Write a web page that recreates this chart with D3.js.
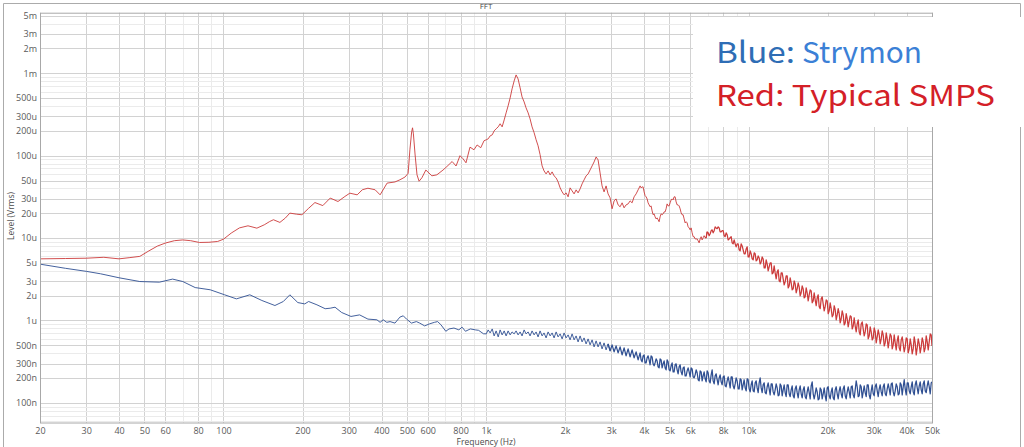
<!DOCTYPE html>
<html><head><meta charset="utf-8">
<script src="https://cdn.jsdelivr.net/npm/d3@7"></script>
<style>body{margin:0;background:#fff}svg{display:block}</style>
</head><body><svg id="c" width="1024" height="447"></svg>
<script>
// ---------- tick labels ----------
const xTicks = [20,30,40,50,60,80,100,200,300,400,500,600,800,1000,2000,3000,4000,5000,6000,8000,10000,20000,30000,40000,50000];
const xTickLabels = ["20","30","40","50","60","80","100","200","300","400","500","600","800","1k","2k","3k","4k","5k","6k","8k","10k","20k","30k","40k","50k"];
const yTicks = [5e-3,3e-3,2e-3,1e-3,5e-4,3e-4,2e-4,1e-4,5e-5,3e-5,2e-5,1e-5,5e-6,3e-6,2e-6,1e-6,5e-7,3e-7,2e-7,1e-7];
const yTickLabels = ["5m","3m","2m","1m","500u","300u","200u","100u","50u","30u","20u","10u","5u","3u","2u","1u","500n","300n","200n","100n"];

// ---------- data (levels in microvolts rms) ----------
// Red: typical SMPS, 20 Hz - 1 kHz
const redLowHz = [20,25,30,35,40,44,48,52,56,60,65,70,75,81,88,95,100,107,115,124,134,143,150,155,164,172,179,190,199,211,223,239,255,273,290,303,323,338,355,378,395,420,450,470,491,505,513,521,525,529,537,546,556,570,590,622,650,686,710,743,769,796,817,839,869,900,925,955,983];
const redLowUV = [5.6,5.65,5.7,5.85,5.6,5.8,6.0,7.0,8.0,8.7,9.3,9.5,9.3,8.85,8.9,9.1,9.7,11.5,13.3,14.1,13.2,14.5,15.9,16.7,15.5,17.5,20.1,19.5,19.2,23,27.0,24.8,30.6,27.8,32,35.1,33.5,38.6,40.3,38.6,33.5,46.5,48,51,55,61,118,195,218,184,102,58.6,49,54,67,57,58.6,67,74,85,75,100,92,82,127,118,135,125,152];
// Blue: Strymon, 20 Hz - 1 kHz
const blueLowHz = [20,25,30,34,40,48,57,64,70,78,89,101,112,126,140,157,169,179,192,204,211,227,244,255,266,282,306,330,355,384,395,406,419,431,450,470,484,498,520,543,559,584,609,636,654,673,703,723,755,788,811,835,872,910,937,978];
const blueLowUV = [4.83,4.3,3.95,3.69,3.3,2.97,2.92,3.18,2.97,2.51,2.36,2.05,1.83,2.05,1.75,1.52,1.70,2.05,1.65,1.59,1.70,1.55,1.39,1.41,1.45,1.25,1.12,1.17,1.04,1.02,0.95,1.02,0.95,0.97,0.93,1.10,1.14,1.04,0.93,0.97,0.93,0.86,0.91,0.95,0.97,0.89,0.74,0.79,0.81,0.77,0.83,0.74,0.79,0.77,0.76,0.69];

// FFT bins 1 kHz - 50 kHz (shared frequency list)
const gridHz = [
1002,1019,1037,1056,1074,1093,1113,1132,1152,1173,
1193,1214,1236,1257,1280,1302,1325,1349,1372,1397,
1421,1447,1472,1498,1525,1552,1579,1607,1636,1664,
1694,1724,1755,1786,1817,1850,1882,1916,1950,1984,
2019,2055,2091,2128,2166,2204,2243,2283,2323,2364,
2406,2449,2492,2536,2581,2627,2673,2720,2768,2817,
2867,2918,2970,3022,3076,3130,3186,3242,3300,3358,
3417,3478,3540,3602,3666,3731,3797,3864,3932,4002,
4073,4145,4218,4293,4369,4446,4525,4605,4687,4770,
4854,4940,5028,5117,5207,5300,5393,5489,5586,5685,
5786,5888,5993,6099,6207,6317,6429,6543,6658,6776,
6896,7018,7143,7269,7398,7529,7662,7798,7936,8076,
8219,8365,8513,8664,8817,8973,9132,9293,9458,9625,
9796,9969,10146,10325,10508,10694,10884,11076,11272,11472,
11675,11882,12092,12306,12524,12746,12971,13201,13435,13672,
13914,14161,14411,14667,14926,15190,15459,15733,16011,16295,
16583,16877,17176,17480,17789,18104,18425,18751,19083,19421,
19765,20115,20471,20833,21202,21578,21960,22348,22744,23147,
23557,23974,24398,24830,25269,25717,26172,26635,27107,27587,
28075,28572,29078,29593,30116,30649,31192,31744,32306,32878,
33460,34052,34655,35268,35893,36528,37175,37833,38503,39184,
39878,40584,41302,42033,42777,43534,44305,45089,45887,46699,
47526,48367,49223,50000];
const redGridUV = [
156,160,174,179,200,212,224,244,224,272,
331,402,503,647,808,956,855,665,517,450,
381,331,280,224,190,156,132,103,75.2,65.4,
60.1,65.4,58.5,63.6,56.9,53.8,48.1,40.7,36.4,33.5,
35.4,31.7,40.7,37.4,34.4,38.5,35.4,39.6,45.5,50.9,
56.9,60.1,67.2,75.2,84.1,96.6,88.9,61.8,43.0,36.4,
43.0,34.4,30.8,22.7,28.3,29.9,25.3,24.0,26.8,23.3,
25.3,26.0,28.3,26.8,31.7,34.4,38.5,43.0,41.8,36.4,
31.7,26.8,24.0,21.4,19.7,17.1,16.7,18.1,19.2,20.8,
22.7,24.6,26.8,29.9,31.7,27.5,25.3,22.7,19.2,17.1,
15.8,13.7,12.6,11.6,10.4,9.77,9.25,9.77,9.50,10.7,
10.1,11.6,11.3,12.6,12.3,13.3,13.7,11.9,12.3,10.7,
11.6,9.50,10.1,8.76,9.50,7.82,8.52,6.99,8.04,6.45,
7.39,5.91,6.99,5.59,6.63,5.29,6.08,4.86,5.91,4.35,
5.44,4.0,5.0,3.68,4.60,3.20,4.12,2.94,3.78,2.71,
3.48,2.49,3.29,2.355,3.03,2.17,2.86,1.99,2.63,1.88,
2.49,1.73,2.355,1.64,2.17,1.51,2.05,1.39,1.94,1.31,
1.78,1.21,1.64,1.11,1.51,1.02,1.39,0.935,1.31,0.884,
1.21,0.836,1.14,0.79,1.08,0.727,1.02,0.669,0.961,0.65,
0.909,0.598,0.836,0.581,0.813,0.535,0.768,0.52,0.747,0.491,
0.706,0.465,0.686,0.452,0.669,0.44,0.65,0.428,0.632,0.416,
0.615,0.405,0.598,0.394,0.632,0.383,0.598,0.405,0.615,0.416,
0.65,0.44,0.686,0.491];
const blueGridUV = [
0.688,0.769,0.707,0.790,0.650,0.748,0.632,0.769,0.669,0.748,
0.650,0.748,0.669,0.727,0.688,0.748,0.669,0.727,0.650,0.769,
0.688,0.727,0.650,0.748,0.669,0.727,0.632,0.748,0.650,0.707,
0.615,0.727,0.650,0.707,0.615,0.727,0.632,0.688,0.598,0.707,
0.615,0.669,0.582,0.688,0.582,0.650,0.550,0.650,0.550,0.615,
0.520,0.598,0.506,0.582,0.478,0.566,0.478,0.550,0.452,0.535,
0.440,0.520,0.428,0.506,0.416,0.492,0.405,0.478,0.383,0.465,
0.372,0.452,0.362,0.440,0.352,0.416,0.333,0.405,0.315,0.383,
0.306,0.372,0.290,0.362,0.282,0.342,0.274,0.342,0.266,0.324,
0.252,0.315,0.245,0.306,0.238,0.298,0.225,0.290,0.219,0.274,
0.213,0.266,0.207,0.259,0.201,0.252,0.191,0.245,0.185,0.238,
0.180,0.232,0.175,0.252,0.170,0.225,0.166,0.219,0.166,0.213,
0.157,0.207,0.152,0.207,0.148,0.201,0.148,0.196,0.144,0.191,
0.140,0.191,0.136,0.185,0.136,0.185,0.133,0.201,0.133,0.175,
0.129,0.175,0.125,0.170,0.125,0.170,0.122,0.170,0.122,0.166,
0.119,0.166,0.119,0.161,0.115,0.161,0.115,0.161,0.115,0.157,
0.112,0.157,0.112,0.180,0.112,0.152,0.109,0.152,0.112,0.152,
0.106,0.157,0.112,0.152,0.109,0.157,0.112,0.157,0.115,0.161,
0.112,0.157,0.115,0.161,0.115,0.185,0.119,0.166,0.115,0.161,
0.119,0.166,0.112,0.166,0.122,0.170,0.119,0.166,0.122,0.170,
0.122,0.170,0.125,0.175,0.122,0.170,0.125,0.175,0.125,0.191,
0.125,0.175,0.129,0.180,0.125,0.185,0.129,0.180,0.129,0.185,
0.133,0.185,0.129,0.180];

// interleaved FFT bins 3.9 kHz - 50 kHz
const midHz = [
3898,3967,4037,4109,4182,4255,4331,4407,4485,4565,
4646,4728,4812,4897,4984,5072,5162,5253,5347,5441,
5537,5635,5735,5837,5940,6046,6153,6262,6373,6486,
6601,6717,6836,6957,7080,7206,7333,7463,7595,7730,
7867,8006,8147,8291,8439,8588,8740,8895,9052,9212,
9375,9541,9710,9882,10057,10235,10416,10601,10788,10980,
11174,11371,11573,11778,11987,12199,12414,12634,12858,13085,
13317,13553,13792,14037,14286,14538,14796,15057,15324,15595,
15872,16152,16439,16729,17026,17327,17634,17946,18264,18587,
18916,19251,19592,19939,20292,20651,21017,21389,21768,22153,
22545,22944,23351,23765,24185,24613,25049,25492,25944,26403,
26870,27346,27830,28322,28824,29334,29854,30381,30919,31467,
32024,32591,33168,33755,34352,34960,35579,36209,36850,37503,
38166,38842,39529,40229,40942,41666,42403,43154,43918,44695,
45486,46291,47110,47945,48793,49657];
const redMidUV = [
40.7,41.8,32.7,29.9,25.3,24.6,19.2,18.1,17.6,15.8,
19.7,19.7,20.8,26.0,24.6,29.1,29.1,31.7,25.3,24.6,
20.3,19.2,15.3,15.3,13.3,13.3,10.4,9.77,9.77,8.76,
10.4,10.1,10.1,11.9,10.7,12.3,11.6,13.7,13.0,13.3,
11.9,12.3,10.4,11.0,9.77,10.4,8.52,8.52,8.52,7.19,
8.52,7.19,6.45,7.82,5.91,6.45,5.44,6.45,5.44,5.74,
5.14,5.59,4.35,4.86,4.47,5.0,3.78,3.78,3.89,3.03,
3.78,3.20,2.94,3.48,2.63,2.86,2.42,2.78,2.42,2.56,
2.17,2.42,1.94,2.17,2.05,2.29,1.73,1.78,1.88,1.47,
1.83,1.59,1.47,1.73,1.31,1.39,1.17,1.35,1.17,1.21,
1.05,1.17,0.935,1.05,0.98,1.11,0.857,0.857,0.909,0.727,
0.909,0.79,0.727,0.884,0.65,0.727,0.615,0.727,0.632,0.669,
0.598,0.669,0.535,0.598,0.566,0.65,0.506,0.535,0.566,0.465,
0.582,0.52,0.478,0.598,0.452,0.506,0.452,0.535,0.465,0.52,
0.478,0.55,0.465,0.55,0.55,0.669];
const blueMidUV = [
0.333,0.372,0.306,0.352,0.333,0.372,0.298,0.306,0.324,0.266,
0.333,0.298,0.266,0.333,0.252,0.282,0.238,0.290,0.252,0.274,
0.238,0.266,0.213,0.245,0.238,0.266,0.207,0.219,0.232,0.185,
0.238,0.213,0.196,0.245,0.185,0.219,0.185,0.213,0.191,0.201,
0.180,0.207,0.161,0.185,0.180,0.207,0.161,0.170,0.185,0.148,
0.191,0.166,0.152,0.196,0.148,0.166,0.140,0.175,0.152,0.175,
0.152,0.166,0.133,0.157,0.148,0.170,0.136,0.144,0.152,0.125,
0.161,0.144,0.133,0.166,0.129,0.144,0.122,0.148,0.133,0.144,
0.129,0.144,0.119,0.136,0.133,0.161,0.129,0.129,0.136,0.112,
0.144,0.129,0.122,0.152,0.122,0.136,0.115,0.144,0.129,0.140,
0.129,0.148,0.122,0.136,0.136,0.157,0.125,0.144,0.157,0.122,
0.157,0.136,0.133,0.166,0.125,0.140,0.129,0.157,0.140,0.148,
0.136,0.157,0.129,0.148,0.148,0.170,0.136,0.140,0.157,0.129,
0.166,0.157,0.148,0.175,0.140,0.157,0.136,0.166,0.152,0.161,
0.144,0.170,0.140,0.161,0.157,0.175];

// ---------- drawing ----------
const svg = d3.select("#c");
const P = {left:40, right:932, top:12.7, bottom:423};
const x = d3.scaleLog().domain([20, 50000]).range([P.left, P.right]);
const y = d3.scaleLog().domain([1e-7, 1e-3]).range([402.9, 73.3]);
const FONT = "'Open Sans', 'DejaVu Sans', sans-serif";

svg.append("rect").attr("width",1024).attr("height",447).attr("fill","#fff");

// outer window border
svg.append("path").attr("d","M3.5,447 V3.5 H1020.5 V447").attr("fill","none").attr("stroke","#ababab").attr("stroke-width",1);

// grid
const gx = svg.append("g");
const xMajor = new Set(xTicks);
for (let n=1; n<=4; n++) for (let k=1; k<=9; k++) {
  const f = k*Math.pow(10,n);
  if (f < 20 || f > 50000) continue;
  const px = Math.round(x(f))+0.5;
  gx.append("line").attr("x1",px).attr("x2",px).attr("y1",P.top).attr("y2",P.bottom)
    .attr("stroke", xMajor.has(f) ? "#d2d2d2" : "#ebebeb").attr("stroke-width",1);
}
const yMajorSet = yTicks.map(v=>v.toPrecision(3));
for (let n=-8; n<=-3; n++) for (let k=1; k<=9; k++) {
  const v = k*Math.pow(10,n);
  const py = y(v);
  if (py < P.top || py > P.bottom) continue;
  const pr = Math.round(py)+0.5;
  gx.append("line").attr("x1",P.left).attr("x2",P.right).attr("y1",pr).attr("y2",pr)
    .attr("stroke", yMajorSet.includes(v.toPrecision(3)) ? "#d2d2d2" : "#ebebeb").attr("stroke-width",1);
}

// clip
svg.append("clipPath").attr("id","pc").append("rect")
  .attr("x",P.left).attr("y",P.top).attr("width",P.right-P.left).attr("height",P.bottom-P.top);

const line = d3.line().x(d=>x(d[0])).y(d=>y(d[1]));
function build(lowHz, lowUV, gUV, mUV){
  const pts = lowHz.map((f,i)=>[f, lowUV[i]*1e-6])
    .concat(gridHz.map((f,i)=>[f, gUV[i]*1e-6]))
    .concat(midHz.map((f,i)=>[f, mUV[i]*1e-6]));
  return d3.sort(pts.filter(d=>d[1]>0), d=>d[0]);
}
const redSeries = build(redLowHz, redLowUV, redGridUV, redMidUV);
const blueSeries = build(blueLowHz, blueLowUV, blueGridUV, blueMidUV);

const gl = svg.append("g").attr("clip-path","url(#pc)");
// thin trace in sparse part, slightly heavier where the FFT bins are dense
function drawTrace(series, color, splitHz){
  gl.append("path").datum(series.filter(d=>d[0]<=splitHz)).attr("d",line).attr("fill","none")
    .attr("stroke",color).attr("stroke-width",0.9).attr("stroke-linejoin","round");
  gl.append("path").datum(series.filter(d=>d[0]>=splitHz*0.97)).attr("d",line).attr("fill","none")
    .attr("stroke",color).attr("stroke-width",1.25).attr("stroke-linejoin","round");
}
drawTrace(blueSeries, "#2f4f92", 3000);
drawTrace(redSeries, "#cc3b3b", 7000);

// frame
svg.append("rect").attr("x",P.left+0.5).attr("y",P.top+0.5)
  .attr("width",P.right-P.left).attr("height",P.bottom-P.top-0.5)
  .attr("fill","none").attr("stroke","#a8a8a8").attr("stroke-width",1);

// axes labels
const ax = svg.append("g").attr("transform",`translate(0,${P.bottom})`)
  .call(d3.axisBottom(x).tickValues(xTicks).tickFormat((d,i)=>xTickLabels[i]).tickSize(0).tickPadding(5));
const ay = svg.append("g").attr("transform",`translate(${P.left},0)`)
  .call(d3.axisLeft(y).tickValues(yTicks).tickFormat((d,i)=>yTickLabels[i]).tickSize(0).tickPadding(3));
[ax,ay].forEach(g=>{
  g.select(".domain").remove();
  g.selectAll("text").attr("fill","#5a5a5a").style("font-family",FONT).style("font-size","9px");
});

svg.append("text").attr("x",486).attr("y",9).attr("text-anchor","middle")
  .style("font-family",FONT).style("font-size","8px").attr("fill","#4a4a4a").text("FFT");
svg.append("text").attr("x",486).attr("y",444.5).attr("text-anchor","middle")
  .style("font-family",FONT).style("font-size","8.5px").attr("fill","#4a4a4a").text("Frequency (Hz)");
svg.append("text").attr("transform","translate(13.5,216) rotate(-90)").attr("text-anchor","middle")
  .style("font-family",FONT).style("font-size","8.5px").attr("fill","#4a4a4a").text("Level (Vrms)");

// legend box (pasted annotation)
svg.append("rect").attr("x",693).attr("y",17).attr("width",331).attr("height",110).attr("fill","#fff");
const LF = "'Noto Sans CJK KR', 'Noto Sans', sans-serif";
svg.append("text").attr("x",716).attr("y",63).style("font-family",LF).style("font-size","29px")
  .attr("fill","#2e6db5").attr("textLength",79).attr("lengthAdjust","spacingAndGlyphs").text("Blue:");
svg.append("text").attr("x",802).attr("y",63).style("font-family",LF).style("font-size","29px")
  .attr("fill","#3b80d6").attr("textLength",120).attr("lengthAdjust","spacingAndGlyphs").text("Strymon");
svg.append("text").attr("x",716).attr("y",106).style("font-family",LF).style("font-size","29px")
  .attr("fill","#d42027").attr("textLength",279).attr("lengthAdjust","spacingAndGlyphs").text("Red: Typical SMPS");
</script>
</body></html>
